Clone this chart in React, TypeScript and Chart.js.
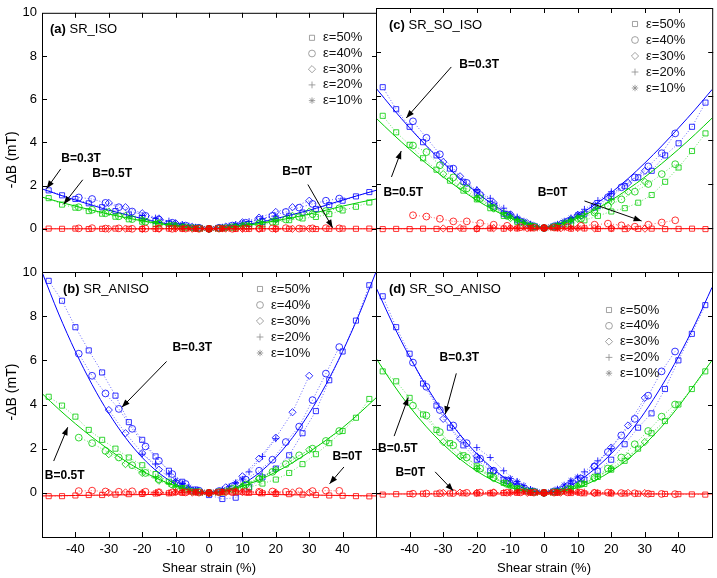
import React, { useEffect, useRef } from 'react';
import { Chart, registerables } from 'chart.js';
import { drawPoint } from 'chart.js/helpers';
Chart.register(...registerables);

const FONT = "'Liberation Sans', Arial, Helvetica, sans-serif";

// ---------- shared x positions (shear strain, %) ----------
const X50 = [-48,-44,-40,-36,-32,-28,-24,-20,-16,-12,-8,-4,0,4,8,12,16,20,24,28,32,36,40,44,48];
const X40 = [-39,-35,-31,-27,-23,-19,-15,-11,-7,-3,0,3,7,11,15,19,23,27,31,35,39];
const X30 = [-30,-25,-20,-15,-10,-5,0,5,10,15,20,25,30];
const X20 = [-20,-16,-12,-8,-4,0,4,8,12,16,20];
const X10 = [-10,-8,-6,-4,-2,0,2,4,6,8,10];
const FIT_X = [-50,-45,-40,-35,-30,-25,-20,-15,-10,-5,0,5,10,15,20,25,30,35,40,45,50];

const X_TICKS = [-40,-30,-20,-10,0,10,20,30,40];
const Y_TICKS = [0,2,4,6,8];
const EPS_LABELS = ['ε=50%','ε=40%','ε=30%','ε=20%','ε=10%'];

// ---------- (a) SR_ISO ----------
const A_B03_FIT = [1.85,1.58,1.33,1.09,0.86,0.66,0.47,0.30,0.17,0.06,0,0.06,0.17,0.30,0.47,0.66,0.86,1.09,1.33,1.56,1.78];
const A_B03_E50 = [1.78,1.55,1.38,1.18,1.0,0.82,0.66,0.5,0.36,0.24,0.13,0.05,0,0.04,0.12,0.22,0.32,0.45,0.6,0.75,0.92,1.1,1.3,1.5,1.7];
const A_B03_E40 = [1.45,1.38,1.2,1.0,0.8,0.6,0.42,0.28,0.15,0.05,0,0.05,0.15,0.28,0.42,0.6,0.78,0.98,1.15,1.3,1.4];
const A_B03_E30 = [1.2,1.0,0.72,0.48,0.26,0.09,0,0.1,0.3,0.52,0.78,1.0,1.3];
const A_B03_E20 = [0.62,0.5,0.36,0.2,0.07,0,0.07,0.2,0.34,0.48,0.6];
const A_B03_E10 = [0.25,0.2,0.14,0.08,0.03,0,0.03,0.08,0.14,0.2,0.26];
const A_B05_FIT = [1.47,1.25,1.05,0.86,0.68,0.52,0.37,0.24,0.13,0.05,0,0.05,0.13,0.24,0.37,0.52,0.68,0.86,1.05,1.22,1.38];
const A_B05_E50 = [1.42,1.12,0.98,0.82,0.7,0.56,0.44,0.33,0.22,0.13,0.06,0.02,0,0.02,0.06,0.12,0.2,0.3,0.4,0.48,0.55,0.68,0.85,1.02,1.22];
const A_B05_E40 = [1.0,0.88,0.72,0.58,0.45,0.33,0.23,0.14,0.07,0.02,0,0.02,0.07,0.14,0.22,0.32,0.43,0.55,0.68,0.82,0.95];
const A_B05_E30 = [0.8,0.6,0.42,0.27,0.14,0.05,0,0.05,0.14,0.27,0.42,0.6,0.8];
const A_B05_E20 = [0.4,0.3,0.2,0.11,0.04,0,0.04,0.11,0.2,0.3,0.4];
const A_B05_E10 = [0.15,0.11,0.07,0.04,0.01,0,0.01,0.04,0.07,0.11,0.15];
const A_B0_FIT = [0,0,0,0,0,0,0,0,0,0,0,0,0,0,0,0,0,0,0,0,0];
const A_B0_E50 = [0.01,0,0.01,-0.01,0,0.01,0,-0.01,0,0.01,0,0,0,0.01,-0.01,0,0.01,0,0,0.01,-0.01,0,0.01,0,0.01];
const A_B0_E40 = [0.02,0.03,0.01,0.02,0,0.01,0.02,0,0.01,0,0,0.01,0,0.02,0.01,0.02,0.03,0.01,0.02,0.03,0.02];
const A_B0_E30 = [0,0.01,-0.01,0,0.01,0,0,0.01,0,0.01,-0.01,0,0.01];
const A_B0_E20 = [0.01,0,0.01,0,0.01,0,0,0.01,0,0.01,0];
const A_B0_E10 = [0,0.01,0,0,0.01,0,0.01,0,0,0.01,0];

// ---------- (b) SR_ANISO ----------
const B_B03_FIT = [10.0,8.1,6.4,4.9,3.6,2.5,1.6,0.9,0.4,0.1,0,0.1,0.4,0.9,1.6,2.5,3.6,4.9,6.4,8.1,10.0];
const B_B03_E50 = [9.6,8.7,7.5,6.45,5.45,4.4,3.2,2.4,1.65,1.0,0.5,0.15,-0.1,-0.28,-0.22,0.25,0.7,1.1,1.7,2.7,3.7,5.1,6.4,7.8,9.4];
const B_B03_E40 = [6.3,5.3,4.5,3.8,2.9,2.1,1.45,0.85,0.4,0.1,0,0.08,0.3,0.6,1.0,1.5,2.3,3.0,4.2,5.4,6.6];
const B_B03_E30 = [3.75,2.7,1.8,1.05,0.5,0.12,0,0.25,0.75,1.55,2.5,3.65,5.3];
const B_B03_E20 = [1.75,1.3,0.85,0.42,0.12,0,0.12,0.45,0.95,1.65,2.45];
const B_B03_E10 = [0.55,0.4,0.25,0.12,0.03,0,0.04,0.14,0.28,0.45,0.62];
const B_B05_FIT = [4.5,3.79,3.13,2.52,1.96,1.44,0.99,0.61,0.31,0.1,0,0.1,0.3,0.58,0.94,1.36,1.85,2.38,2.95,3.6,4.3];
const B_B05_E50 = [4.35,3.95,3.45,2.85,2.4,2.0,1.6,1.25,0.85,0.5,0.22,0.05,0,0.02,0.1,0.25,0.42,0.6,0.9,1.3,1.75,2.25,2.8,3.4,4.25];
const B_B05_E40 = [2.5,2.25,1.9,1.6,1.25,0.9,0.62,0.38,0.17,0.04,0,0.04,0.18,0.38,0.62,0.95,1.3,1.7,2.0,2.35,2.8];
const B_B05_E30 = [1.75,1.3,0.9,0.55,0.25,0.06,0,0.07,0.3,0.65,1.05,1.5,1.95];
const B_B05_E20 = [0.95,0.68,0.42,0.2,0.05,0,0.05,0.22,0.48,0.75,1.05];
const B_B05_E10 = [0.3,0.2,0.12,0.05,0.01,0,0.01,0.05,0.13,0.22,0.32];
const B_B0_FIT = [-0.14,-0.13,-0.12,-0.11,-0.1,-0.09,-0.08,-0.07,-0.06,-0.05,-0.04,-0.05,-0.06,-0.07,-0.08,-0.09,-0.1,-0.11,-0.12,-0.13,-0.14];
const B_B0_E50 = [-0.15,-0.15,-0.12,-0.1,-0.1,-0.08,-0.06,-0.05,-0.03,-0.02,0,0.02,0,0.03,0.02,0,-0.02,-0.05,-0.06,-0.08,-0.1,-0.12,-0.13,-0.15,-0.16];
const B_B0_E40 = [0.08,0.1,0.06,0.05,0.07,0.05,0.03,0.02,0.02,0.01,0,0.02,0.03,0.04,0.05,0.06,0.05,0.07,0.08,0.1,0.09];
const B_B0_E30 = [0,0.02,-0.01,0.01,0.02,0.01,0,0.02,0.03,0.01,0,0.02,0.01];
const B_B0_E20 = [0.02,0.01,0,0.02,0.03,0,0.05,0.08,0.05,0.02,0.03];
const B_B0_E10 = [0.05,0.08,0.06,0.04,0.02,0,0.03,0.05,0.1,0.12,0.08];

// ---------- (c) SR_SO_ISO ----------
const C_B03_FIT = [6.36,5.43,4.55,3.73,2.96,2.25,1.61,1.05,0.57,0.2,0,0.2,0.57,1.05,1.61,2.25,2.96,3.73,4.55,5.4,6.3];
const C_B03_E50 = [6.4,5.4,4.6,3.9,3.3,2.7,2.1,1.6,1.1,0.65,0.35,0.1,0,0.1,0.35,0.65,1.0,1.45,1.9,2.3,2.6,3.3,3.85,4.6,5.7];
const C_B03_E40 = [4.85,4.1,3.35,2.7,2.05,1.5,1.0,0.6,0.3,0.08,0,0.08,0.3,0.58,0.95,1.4,1.85,2.3,2.8,3.4,4.3];
const C_B03_E30 = [3.0,2.35,1.7,1.15,0.62,0.22,0,0.2,0.6,1.05,1.55,2.05,2.6];
const C_B03_E20 = [1.75,1.35,0.9,0.5,0.17,0,0.15,0.45,0.85,1.25,1.65];
const C_B03_E10 = [0.62,0.46,0.32,0.18,0.06,0,0.06,0.18,0.32,0.46,0.62];
const C_B05_FIT = [5.0,4.27,3.58,2.93,2.32,1.77,1.26,0.82,0.45,0.16,0,0.16,0.45,0.82,1.26,1.77,2.32,2.93,3.58,4.27,5.0];
const C_B05_E50 = [5.1,4.35,3.78,3.17,2.65,2.15,1.7,1.3,0.9,0.55,0.28,0.08,0,0.05,0.18,0.35,0.55,0.75,0.9,1.15,1.5,2.1,2.75,3.5,4.3];
const C_B05_E40 = [3.75,3.45,2.85,2.3,1.8,1.35,0.92,0.55,0.25,0.06,0,0.05,0.2,0.42,0.7,1.0,1.3,1.65,2.0,2.45,2.9];
const C_B05_E30 = [2.45,1.9,1.35,0.88,0.45,0.13,0,0.12,0.42,0.78,1.2,1.65,2.1];
const C_B05_E20 = [1.4,1.05,0.7,0.38,0.12,0,0.12,0.36,0.65,0.95,1.3];
const C_B05_E10 = [0.5,0.37,0.25,0.13,0.04,0,0.04,0.13,0.25,0.37,0.5];
const C_B0_FIT = [-0.03,-0.03,-0.03,-0.03,-0.03,-0.03,-0.03,-0.03,-0.03,-0.03,-0.03,-0.03,-0.03,-0.03,-0.03,-0.03,-0.03,-0.03,-0.03,-0.03,-0.03];
const C_B0_E50 = [-0.05,-0.04,-0.05,-0.03,-0.04,-0.05,-0.03,-0.04,-0.02,-0.03,-0.02,-0.01,0,-0.01,-0.03,-0.02,-0.04,-0.03,-0.05,-0.04,-0.03,-0.05,-0.04,-0.03,-0.05];
const C_B0_E40 = [0.58,0.52,0.42,0.3,0.3,0.22,0.15,0.1,0.04,0.01,0,0.02,0.05,0.1,0.15,0.2,0.12,0.06,0.15,0.25,0.35];
const C_B0_E30 = [-0.02,0,-0.03,-0.01,0,-0.02,0,-0.01,0,-0.02,-0.01,0,-0.03];
const C_B0_E20 = [-0.01,0,-0.02,0,-0.01,0,0,-0.01,0,-0.02,0];
const C_B0_E10 = [0,-0.01,0,0,-0.01,0,0,-0.01,0,0,-0.01];

// ---------- (d) SR_SO_ANISO ----------
const D_B03_FIT = [9.3,7.65,6.16,4.83,3.65,2.63,1.77,1.07,0.51,0.15,0,0.15,0.51,1.07,1.77,2.63,3.65,4.83,6.16,7.65,9.3];
const D_B03_E50 = [8.9,7.5,6.3,4.95,3.95,2.95,2.15,1.5,1.0,0.6,0.3,0.08,0,0.06,0.3,0.6,1.0,1.5,2.2,2.95,3.6,4.7,6.0,7.2,8.5];
const D_B03_E40 = [5.9,4.8,3.75,3.05,2.25,1.55,1.0,0.55,0.25,0.06,0,0.07,0.3,0.65,1.2,1.85,2.6,3.35,4.4,5.5,6.4];
const D_B03_E30 = [3.35,2.45,1.65,1.0,0.45,0.12,0,0.16,0.6,1.2,2.05,3.05,4.3];
const D_B03_E20 = [2.05,1.6,1.0,0.52,0.15,0,0.15,0.5,0.95,1.45,2.0];
const D_B03_E10 = [0.65,0.5,0.33,0.16,0.05,0,0.05,0.18,0.36,0.56,0.72];
const D_B05_FIT = [6.1,4.94,3.9,2.99,2.2,1.53,0.98,0.55,0.24,0.06,0,0.06,0.24,0.55,0.98,1.53,2.2,2.99,3.9,4.94,6.0];
const D_B05_E50 = [5.5,5.05,4.3,3.55,2.85,2.25,1.7,1.2,0.8,0.45,0.2,0.05,0,0.04,0.18,0.4,0.72,1.05,1.45,2.0,2.7,3.25,4.0,4.7,5.5];
const D_B05_E40 = [3.95,3.5,2.75,2.15,1.6,1.1,0.7,0.4,0.17,0.04,0,0.04,0.17,0.4,0.7,1.1,1.6,2.2,2.8,3.45,4.0];
const D_B05_E30 = [2.3,1.65,1.1,0.65,0.3,0.07,0,0.07,0.3,0.65,1.1,1.65,2.3];
const D_B05_E20 = [1.1,0.75,0.45,0.2,0.05,0,0.05,0.2,0.45,0.75,1.1];
const D_B05_E10 = [0.32,0.21,0.12,0.05,0.01,0,0.01,0.05,0.12,0.21,0.32];
const D_B0_FIT = [-0.05,-0.05,-0.05,-0.05,-0.05,-0.05,-0.05,-0.05,-0.05,-0.05,-0.05,-0.05,-0.05,-0.05,-0.05,-0.05,-0.05,-0.05,-0.05,-0.05,-0.05];
const D_B0_E50 = [-0.08,-0.06,-0.05,-0.04,-0.04,-0.03,-0.02,-0.03,-0.02,-0.01,0,0,0,0,-0.01,-0.02,-0.02,-0.03,-0.03,-0.04,-0.05,-0.05,-0.06,-0.07,-0.08];
const D_B0_E40 = [-0.04,-0.03,-0.02,-0.01,0,0.01,0,0.01,0.02,0.01,0,0.01,0.02,0.01,0,0.01,-0.01,-0.02,-0.04,-0.05,-0.06];
const D_B0_E30 = [0,0.01,0,0.02,0.01,0,0,0.01,0.02,0,0.01,0,-0.01];
const D_B0_E20 = [0.01,0,0.02,0.03,0.01,0,0.01,0.03,0.04,0.02,0];
const D_B0_E10 = [0.02,0.04,0.05,0.03,0.01,0,0.02,0.04,0.06,0.05,0.03];

// ---------- styling ----------
const XS = [X50, X40, X30, X20, X10];
const STYLES = ['rect', 'circle', 'rectRot', 'cross', 'star'];
const RADII = [3.6, 3.4, 3.6, 3.4, 3.2];
const FIELD_COLORS = ['rgb(255,0,0)', 'rgb(0,205,0)', 'rgb(0,0,255)'];
const FIELD_DASH = ['rgba(255,0,0,0.75)', 'rgba(0,205,0,0.75)', 'rgba(0,0,255,0.75)'];

type Note = { text: string; tx: number; ty: number; fx: number; fy: number; ax: number; ay: number };
type Panel = {
  tag: string; name: string; col: number; row: number;
  fits: number[][]; eps: number[][][];
  legend: { dx: number; dy: number; gap: number };
  label: { dx: number; dy: number };
  ytitle: number; notes: Note[];
};

const PANELS: Panel[] = [
  {
    tag: '(a)', name: 'SR_ISO', col: 0, row: 0,
    fits: [A_B0_FIT, A_B05_FIT, A_B03_FIT],
    eps: [
      [A_B0_E50, A_B0_E40, A_B0_E30, A_B0_E20, A_B0_E10],
      [A_B05_E50, A_B05_E40, A_B05_E30, A_B05_E20, A_B05_E10],
      [A_B03_E50, A_B03_E40, A_B03_E30, A_B03_E20, A_B03_E10],
    ],
    legend: { dx: 270, dy: 25, gap: 15.7 }, label: { dx: 8, dy: 17 }, ytitle: 147,
    notes: [
      { text: 'B=0.3T', tx: -38.3, ty: 3.23, fx: -44.4, fy: 2.77, ax: -48.6, ay: 1.86 },
      { text: 'B=0.5T', tx: -29, ty: 2.55, fx: -37.8, fy: 2.27, ax: -43.5, ay: 1.14 },
      { text: 'B=0T', tx: 26.4, ty: 2.64, fx: 29.6, fy: 2.05, ax: 37.0, ay: 0.05 },
    ],
  },
  {
    tag: '(c)', name: 'SR_SO_ISO', col: 1, row: 0,
    fits: [C_B0_FIT, C_B05_FIT, C_B03_FIT],
    eps: [
      [C_B0_E50, C_B0_E40, C_B0_E30, C_B0_E20, C_B0_E10],
      [C_B05_E50, C_B05_E40, C_B05_E30, C_B05_E20, C_B05_E10],
      [C_B03_E50, C_B03_E40, C_B03_E30, C_B03_E20, C_B03_E10],
    ],
    legend: { dx: 259, dy: 16, gap: 16 }, label: { dx: 13, dy: 17 }, ytitle: 147,
    notes: [
      { text: 'B=0.3T', tx: -19.3, ty: 7.41, fx: -27.6, fy: 7.32, ax: -41.0, ay: 5.0 },
      { text: 'B=0.5T', tx: -41.9, ty: 1.59, fx: -45.4, fy: 2.32, ax: -42.5, ay: 3.5 },
      { text: 'B=0T', tx: 2.5, ty: 1.59, fx: 12.0, fy: 1.23, ax: 29.0, ay: 0.32 },
    ],
  },
  {
    tag: '(b)', name: 'SR_ANISO', col: 0, row: 1,
    fits: [B_B0_FIT, B_B05_FIT, B_B03_FIT],
    eps: [
      [B_B0_E50, B_B0_E40, B_B0_E30, B_B0_E20, B_B0_E10],
      [B_B05_E50, B_B05_E40, B_B05_E30, B_B05_E20, B_B05_E10],
      [B_B03_E50, B_B03_E40, B_B03_E30, B_B03_E20, B_B03_E10],
    ],
    legend: { dx: 218, dy: 17, gap: 16 }, label: { dx: 21, dy: 17 }, ytitle: 120,
    notes: [
      { text: 'B=0.3T', tx: -5.0, ty: 6.58, fx: -12.7, fy: 5.95, ax: -26.1, ay: 3.87 },
      { text: 'B=0.5T', tx: -43.2, ty: 0.77, fx: -46.5, fy: 1.44, ax: -42.3, ay: 2.97 },
      { text: 'B=0T', tx: 41.4, ty: 1.62, fx: 40.4, fy: 1.17, ax: 36.1, ay: 0.41 },
    ],
  },
  {
    tag: '(d)', name: 'SR_SO_ANISO', col: 1, row: 1,
    fits: [D_B0_FIT, D_B05_FIT, D_B03_FIT],
    eps: [
      [D_B0_E50, D_B0_E40, D_B0_E30, D_B0_E20, D_B0_E10],
      [D_B05_E50, D_B05_E40, D_B05_E30, D_B05_E20, D_B05_E10],
      [D_B03_E50, D_B03_E40, D_B03_E30, D_B03_E20, D_B03_E10],
    ],
    legend: { dx: 233, dy: 38, gap: 15.8 }, label: { dx: 13, dy: 17 }, ytitle: 120,
    notes: [
      { text: 'B=0.3T', tx: -25.2, ty: 6.13, fx: -26.1, fy: 5.41, ax: -29.4, ay: 3.56 },
      { text: 'B=0.5T', tx: -43.5, ty: 1.98, fx: -44.6, fy: 2.57, ax: -40.4, ay: 4.32 },
      { text: 'B=0T', tx: -39.8, ty: 0.9, fx: -32.4, fy: 0.95, ax: -27.0, ay: 0.09 },
    ],
  },
];

function drawArrow(ctx: CanvasRenderingContext2D, x1: number, y1: number, x2: number, y2: number) {
  ctx.beginPath();
  ctx.moveTo(x1, y1);
  ctx.lineTo(x2, y2);
  ctx.stroke();
  const a = Math.atan2(y2 - y1, x2 - x1);
  const L = 8, W = 3;
  ctx.beginPath();
  ctx.moveTo(x2, y2);
  ctx.lineTo(x2 - L * Math.cos(a) + W * Math.sin(a), y2 - L * Math.sin(a) - W * Math.cos(a));
  ctx.lineTo(x2 - L * Math.cos(a) - W * Math.sin(a), y2 - L * Math.sin(a) + W * Math.cos(a));
  ctx.closePath();
  ctx.fill();
}

function decorPlugin(p: Panel) {
  return {
    id: 'decor' + p.tag,
    afterDraw(chart: any) {
      const { ctx, chartArea: ca } = chart;
      const xs = chart.scales.x, ys = chart.scales.y;
      ctx.save();
      ctx.strokeStyle = '#000';
      ctx.fillStyle = '#000';
      ctx.lineWidth = 1;
      ctx.strokeRect(ca.left + 0.5, ca.top + 0.5, ca.right - ca.left, ca.bottom - ca.top);
      // inward ticks
      ctx.beginPath();
      for (const v of X_TICKS) {
        const px = Math.round(xs.getPixelForValue(v)) + 0.5;
        ctx.moveTo(px, ca.top); ctx.lineTo(px, ca.top + 5);
        if (p.row === 1) { ctx.moveTo(px, ca.bottom); ctx.lineTo(px, ca.bottom - 5); }
      }
      for (const v of Y_TICKS) {
        const py = Math.round(ys.getPixelForValue(v)) + 0.5;
        ctx.moveTo(ca.left, py); ctx.lineTo(ca.left + 5, py);
        ctx.moveTo(ca.right + 1, py); ctx.lineTo(ca.right - 4, py);
      }
      ctx.stroke();

      // y-axis title (left column only)
      if (p.col === 0) {
        ctx.save();
        ctx.translate(12, ca.top + p.ytitle);
        ctx.rotate(-Math.PI / 2);
        ctx.font = `14px ${FONT}`;
        ctx.textAlign = 'center';
        ctx.textBaseline = 'middle';
        ctx.fillText('-ΔB (mT)', 0, 0);
        ctx.restore();
      }

      // panel label
      ctx.textBaseline = 'middle';
      ctx.textAlign = 'left';
      ctx.font = `bold 13px ${FONT}`;
      const lx = ca.left + p.label.dx, ly = ca.top + p.label.dy;
      ctx.fillText(p.tag, lx, ly);
      const w = ctx.measureText(p.tag + ' ').width;
      ctx.font = `13px ${FONT}`;
      ctx.fillText(p.name, lx + w, ly);

      // legend
      for (let i = 0; i < 5; i++) {
        const mx = ca.left + p.legend.dx, my = ca.top + p.legend.dy + i * p.legend.gap;
        ctx.strokeStyle = '#8a8a8a';
        ctx.fillStyle = 'rgba(0,0,0,0)';
        ctx.lineWidth = 0.8;
        drawPoint(ctx, { pointStyle: STYLES[i] as any, radius: RADII[i], borderWidth: 0.8, rotation: 0 } as any, mx, my);
        ctx.fillStyle = '#111';
        ctx.font = `13px ${FONT}`;
        ctx.textAlign = 'left';
        ctx.textBaseline = 'middle';
        ctx.fillText(EPS_LABELS[i], mx + 11, my);
      }

      // annotations
      ctx.strokeStyle = '#000';
      ctx.fillStyle = '#000';
      ctx.lineWidth = 1;
      ctx.font = `bold 12px ${FONT}`;
      ctx.textAlign = 'center';
      ctx.textBaseline = 'middle';
      for (const n of p.notes) {
        ctx.fillText(n.text, xs.getPixelForValue(n.tx), ys.getPixelForValue(n.ty));
        drawArrow(ctx, xs.getPixelForValue(n.fx), ys.getPixelForValue(n.fy), xs.getPixelForValue(n.ax), ys.getPixelForValue(n.ay));
      }
      ctx.restore();
    },
  };
}

function buildConfig(p: Panel): any {
  const datasets: any[] = [];
  for (let f = 0; f < 3; f++) {
    datasets.push({
      data: FIT_X.map((x, i) => ({ x, y: p.fits[f][i] })),
      showLine: true,
      borderColor: FIELD_COLORS[f],
      borderWidth: 1,
      pointRadius: 0,
      cubicInterpolationMode: 'monotone',
    });
    for (let e = 0; e < 5; e++) {
      datasets.push({
        data: XS[e].map((x, i) => ({ x, y: p.eps[f][e][i] })),
        showLine: true,
        borderColor: FIELD_DASH[f],
        borderWidth: 0.8,
        borderDash: [1, 2],
        pointStyle: STYLES[e],
        pointRadius: RADII[e],
        pointBorderColor: FIELD_COLORS[f],
        pointBackgroundColor: 'rgba(0,0,0,0)',
        pointBorderWidth: 0.8,
      });
    }
  }
  const showX = p.row === 1;
  const showY = p.col === 0;
  const tickFont = { family: FONT, size: 13 };
  const xScale: any = {
    type: 'linear', min: -50, max: 50, display: showX,
    grid: { display: false, drawTicks: false },
    border: { display: false },
    ticks: {
      stepSize: 10, autoSkip: false, maxRotation: 0, padding: 5,
      color: '#000', font: tickFont,
      callback: (v: number) => (v <= -50 || v >= 50 ? '' : String(v)),
    },
    title: { display: showX, text: 'Shear strain (%)', color: '#000', font: tickFont, padding: { top: 0, bottom: 2 } },
  };
  if (showX) xScale.afterFit = (s: any) => { s.height = 41; };
  const yScale: any = {
    type: 'linear', min: -2, max: 10, display: showY,
    grid: { display: false, drawTicks: false },
    border: { display: false },
    ticks: {
      stepSize: 2, padding: 5, color: '#000', font: tickFont,
      callback: (v: number) => (v < 0 ? '' : String(v)),
    },
  };
  if (showY) yScale.afterFit = (s: any) => { s.width = 42; };
  return {
    type: 'scatter',
    data: { datasets },
    options: {
      responsive: false,
      animation: false,
      events: [],
      layout: {
        padding: {
          left: p.col === 0 ? 0 : 376,
          right: p.col === 0 ? 341 : 4,
          top: p.row === 0 ? 8 : 272,
          bottom: p.row === 0 ? 306 : 0,
        },
      },
      plugins: { legend: { display: false }, tooltip: { enabled: false } },
      scales: { x: xScale, y: yScale },
    },
    plugins: [decorPlugin(p)],
  };
}

export default function App() {
  const r0 = useRef<HTMLCanvasElement>(null);
  const r1 = useRef<HTMLCanvasElement>(null);
  const r2 = useRef<HTMLCanvasElement>(null);
  const r3 = useRef<HTMLCanvasElement>(null);
  const refs = [r0, r1, r2, r3];
  useEffect(() => {
    const charts = PANELS.map((p, i) => new Chart(refs[i].current as HTMLCanvasElement, buildConfig(p)));
    return () => charts.forEach((c) => c.destroy());
  }, []);
  return (
    <div style={{ position: 'fixed', left: 0, top: 0, width: 717, height: 578, background: '#fff' }}>
      {PANELS.map((p, i) => (
        <canvas
          key={p.tag}
          ref={refs[i]}
          width={717}
          height={578}
          style={{ position: 'absolute', left: 0, top: 0, width: 717, height: 578 }}
        />
      ))}
    </div>
  );
}
